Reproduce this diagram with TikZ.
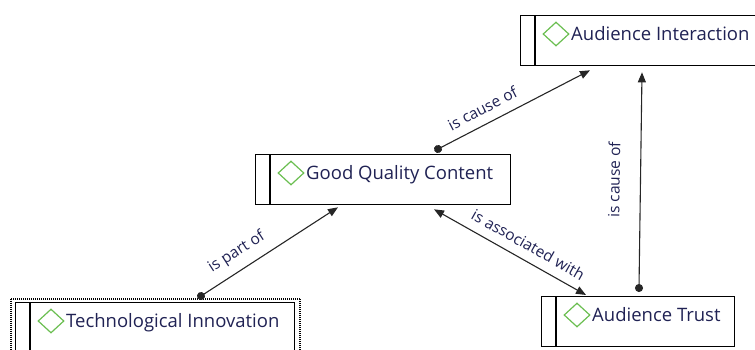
\documentclass[tikz,border=0pt]{standalone}
\usepackage{fontspec}
\setmainfont{Open Sans}
\usepackage{tikz}
\tikzset{x=1pt,y=-1pt}
\usetikzlibrary{arrows.meta, calc, shapes.geometric}
\definecolor{txtblue}{RGB}{32,34,84}
\definecolor{dmdgreen}{RGB}{106,190,80}
\tikzset{
  entity/.style={draw, line width=1.3pt, minimum height=50pt, anchor=north west, inner sep=0pt},
  dmd/.style={diamond, draw=dmdgreen, line width=1.2pt, minimum width=26pt, minimum height=24pt, inner sep=0pt},
  ename/.style={anchor=base west, inner sep=0pt, text=txtblue, font=\fontsize{18.5}{22}\selectfont},
  rel/.style={line width=1.1pt, draw=black!85, shorten <=-4pt,
    {Circle[length=8pt]}-{Triangle[length=10pt,width=8pt]}},
  biRel/.style={line width=1.1pt, draw=black!85,
    {Triangle[length=10pt,width=8pt]}-{Triangle[length=10pt,width=8pt]}},
  rlbl/.style={sloped, above=9pt, inner sep=0pt, text=txtblue, font=\fontsize{15.5}{18}\selectfont}
}
% name, x, y, width, text
\newcommand\entitybox[5]{%
  \node[entity, minimum width=#4pt] (#1) at (#2,#3) {};
  \draw[line width=1.3pt] ([shift={(15,0)}]#1.north west) -- ([shift={(15,0)}]#1.south west);
  \node[dmd] (#1-d) at ([shift={(36,19)}]#1.north west) {};
  \node[ename] (#1-t) at ([shift={(51,25.5)}]#1.north west) {#5};
}

\begin{document}
\begin{tikzpicture}
\useasboundingbox (0,0) rectangle (755,349);
    \entitybox{inter}{520}{15}{250}{Audience Interaction}
    \entitybox{gqc}{255}{154}{255}{Good Quality Content}
    \entitybox{tech}{15}{302}{279}{Technological Innovation}
    \entitybox{trust}{541}{296}{193}{Audience Trust}
    % selection frame
    \draw[line width=2pt, dash pattern=on 1pt off 1pt]
      ([shift={(-4.5,-3.5)}]tech.north west) rectangle ([shift={(4.5,3.5)}]tech.south east);

    \draw[rel] ([shift={(186,-6)}]tech.north west)
      -- node[rlbl, pos=.33] {is part of} ([shift={(83,2)}]gqc.south west);
    \draw[rel] ([shift={(183,-5)}]gqc.north west)
      -- node[rlbl, pos=.34] {is cause of} ([shift={(70,4)}]inter.south west);
    \draw[biRel] ([shift={(179,4)}]gqc.south west)
      -- node[rlbl, pos=.57] {is associated with} ([shift={(45,-1)}]trust.north west);
    \draw[rel] ([shift={(98,-8)}]trust.north west)
      -- node[rlbl, pos=.5, above=11pt] {is cause of} ([shift={(122,6)}]inter.south west);
\end{tikzpicture}
\end{document}
